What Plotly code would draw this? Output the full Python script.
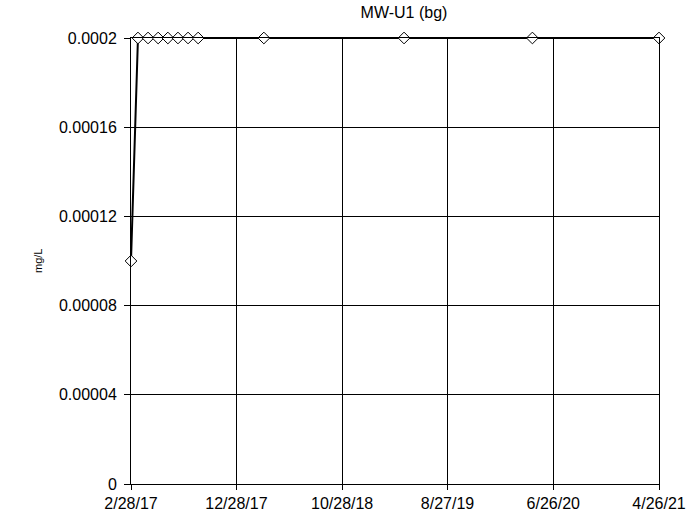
import plotly.graph_objects as go

dates = ["2017-02-28", "2017-03-20", "2017-04-18", "2017-05-17", "2017-06-14",
         "2017-07-13", "2017-08-11", "2017-09-09", "2018-03-17", "2019-04-24",
         "2020-04-27", "2021-04-26"]
values = [0.0001, 0.0002, 0.0002, 0.0002, 0.0002, 0.0002, 0.0002, 0.0002,
          0.0002, 0.0002, 0.0002, 0.0002]

x_tickvals = ["2017-02-28", "2017-12-28", "2018-10-28", "2019-08-27", "2020-06-26", "2021-04-26"]
x_ticktext = ["2/28/17", "12/28/17", "10/28/18", "8/27/19", "6/26/20", "4/26/21"]
y_tickvals = [0, 0.00004, 0.00008, 0.00012, 0.00016, 0.0002]
y_ticktext = ["0", "0.00004", "0.00008", "0.00012", "0.00016", "0.0002"]

W, H = 693, 511
L, R, T, B = 131, 34, 38, 27
pw = W - L - R

fig = go.Figure()
fig.add_trace(go.Scatter(
    x=dates, y=values, mode="lines+markers",
    line=dict(color="black", width=2),
    marker=dict(symbol="diamond", size=9, color="white",
                line=dict(color="black", width=1)),
    cliponaxis=False, showlegend=False,
))

fig.update_layout(
    width=W, height=H, autosize=False,
    margin=dict(l=L, r=R, t=T, b=B, autoexpand=False),
    paper_bgcolor="white", plot_bgcolor="white",
    font=dict(family="Liberation Sans, Arial, sans-serif", color="black", size=16),
    title=dict(text="MW-U1 (bg)", x=404 / W, xanchor="center",
               y=1 - 12 / H, yanchor="middle", font=dict(size=16)),
    annotations=[dict(text="mg/L", textangle=-90, xref="paper", yref="paper",
                      x=(38 - L) / pw, y=0.5, xanchor="center", yanchor="middle",
                      showarrow=False, font=dict(size=11))],
)
fig.update_xaxes(
    type="date", range=["2017-02-28", "2021-04-26"],
    tickvals=x_tickvals, ticktext=x_ticktext, automargin=False,
    showgrid=True, gridcolor="black", gridwidth=1,
    showline=True, linecolor="black", linewidth=1, mirror=True,
    ticks="outside", ticklen=5, tickcolor="black",
    zeroline=False, tickfont=dict(size=16),
)
fig.update_yaxes(
    range=[0, 0.0002],
    tickvals=y_tickvals, ticktext=y_ticktext, automargin=False,
    showgrid=True, gridcolor="black", gridwidth=1,
    showline=True, linecolor="black", linewidth=1, mirror=True,
    ticks="outside", ticklen=6, tickcolor="black", ticklabelstandoff=4,
    zeroline=False, tickfont=dict(size=16),
)

fig.write_html("out.html", config={"displayModeBar": False},
               post_script="document.body.style.margin='0';")
